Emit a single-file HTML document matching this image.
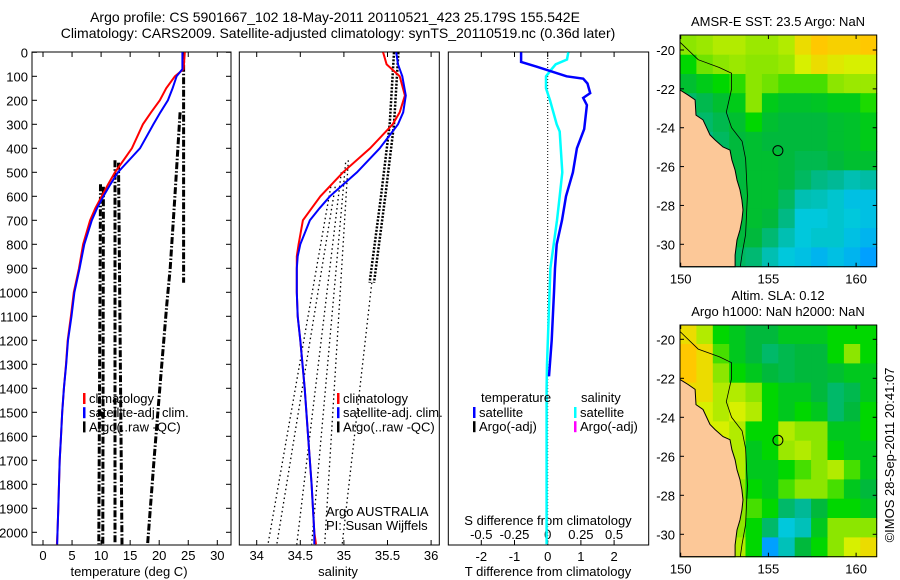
<!DOCTYPE html>
<html><head><meta charset="utf-8">
<style>
body{margin:0;background:#fff;}
svg{display:block;font-family:"Liberation Sans",sans-serif;}
text{fill:#000;}
</style></head>
<body>
<svg id="fig" width="900" height="580" viewBox="0 0 900 580" xmlns="http://www.w3.org/2000/svg">
<text x="335" y="22" font-size="14" text-anchor="middle">Argo profile: CS 5901667_102 18-May-2011 20110521_423 25.179S 155.542E</text>
<text x="338" y="38" font-size="14" text-anchor="middle">Climatology: CARS2009. Satellite-adjusted climatology: synTS_20110519.nc (0.36d later)</text>
<g id="p1"></g>
<g id="p2"></g>
<g id="p3"></g>
<g id="m1"></g>
<g id="m2"></g>
<text transform="translate(894,455) rotate(-90)" font-size="13" text-anchor="middle">©IMOS 28-Sep-2011 20:41:07</text>
</svg>
<script>
// ---- data ----
const depthTicks=[0,100,200,300,400,500,600,700,800,900,1000,1100,1200,1300,1400,1500,1600,1700,1800,1900,2000];
const tempTicks=[0,5,10,15,20,25,30];
const salTicks=[34,34.5,35,35.5,36];
const salTickLabels=["34","34.5","35","35.5","36"];
const tdTicks=[-2,-1,0,1,2];
const sdTicks=[-0.5,-0.25,0,0.25,0.5];
const sdTickLabels=["-0.5","-0.25","0","0.25","0.5"];
const climDepth=[0,70,100,150,200,250,300,400,500,550,600,650,700,800,900,1000,1100,1200,1300,1400,1500,1600,1700,1800,1900,2000,2050];
const climTemp=[24.4,24.2,22.7,21.2,20.1,18.6,17.2,15.3,12.4,11.2,10.1,9.0,8.1,6.9,6.2,5.3,4.8,4.25,3.96,3.6,3.3,3.1,2.87,2.75,2.64,2.5,2.4];
const satTemp=[24.0,24.0,23.0,22.3,21.5,20.2,19.0,16.7,12.9,11.6,10.4,9.3,8.4,7.1,6.3,5.4,4.9,4.3,4.0,3.6,3.3,3.1,2.87,2.75,2.64,2.5,2.45];
const salDepth=[0,50,100,180,250,300,400,500,600,650,700,800,850,900,1000,1100,1200,1400,1600,1800,2000,2050];
const climSal=[35.45,35.49,35.64,35.70,35.64,35.56,35.30,34.99,34.73,34.63,34.53,34.48,34.46,34.46,34.46,34.47,34.50,34.55,34.59,34.63,34.66,34.68];
const satSal=[35.60,35.62,35.67,35.71,35.68,35.62,35.41,35.15,34.84,34.72,34.61,34.50,34.47,34.46,34.46,34.47,34.50,34.55,34.59,34.63,34.66,34.66];
const argoTempProfiles=[
 {d:[0,960],t:[24.2,24.2]},
 {d:[250,600,900,1050,1400,1700,2050],t:[23.6,22.7,21.9,21.3,20.1,19.1,18.0]},
 {d:[550,2050],t:[9.9,9.6]},
 {d:[560,2050],t:[10.4,10.3]},
 {d:[450,2050],t:[12.4,12.4]},
 {d:[460,2050],t:[13.0,13.6]}
];
const argoSalBand={d:[0,300,600,960],s:[35.6,35.55,35.45,35.32]};
const argoSalDotted=[
 {d:[560,2050],s:[34.85,34.13]},
 {d:[560,2050],s:[34.9,34.23]},
 {d:[500,2050],s:[34.97,34.46]},
 {d:[460,2050],s:[35.02,34.63]},
 {d:[450,2050],s:[35.05,34.78]},
 {d:[960,2050],s:[35.32,34.98]}
];
const diffDepth=[0,40,60,100,110,130,170,190,220,320,400,500,600,700,800,900,1000,1200,1350,1400,2050];
const tempDiff=[-0.8,-0.8,-0.33,0.57,1.07,1.2,1.28,1.07,1.18,1.1,0.88,0.76,0.55,0.43,0.27,0.22,0.19,0.12,0.04,0.0,0.0];
const salDiffDepth=[0,30,50,70,100,150,200,300,330,500,600,700,800,900,1300,1400,2050];
const salDiff=[0.155,0.145,0.06,0.03,-0.013,-0.013,0.017,0.068,0.09,0.11,0.09,0.07,0.045,0.02,-0.005,-0.008,-0.008];
const sstGrid=[
[0.7,0.72,0.75,0.75,0.72,0.72,0.75,0.85,0.9,0.88,0.88,0.9],
[0.6,0.68,0.7,0.72,0.7,0.7,0.72,0.8,0.85,0.82,0.8,0.8],
[0.52,0.56,0.6,0.63,0.7,0.68,0.65,0.65,0.65,0.7,0.72,0.72],
[0.45,0.48,0.52,0.56,0.7,0.56,0.53,0.53,0.54,0.56,0.56,0.62],
[0.42,0.45,0.48,0.52,0.6,0.52,0.5,0.5,0.5,0.52,0.53,0.56],
[0.42,0.42,0.46,0.5,0.52,0.5,0.5,0.5,0.5,0.52,0.53,0.56],
[0.42,0.42,0.45,0.5,0.52,0.52,0.5,0.48,0.48,0.5,0.52,0.52],
[0.42,0.42,0.42,0.5,0.52,0.52,0.5,0.46,0.42,0.4,0.36,0.38],
[0.42,0.42,0.4,0.5,0.52,0.52,0.46,0.36,0.35,0.32,0.28,0.28],
[0.42,0.42,0.4,0.5,0.52,0.5,0.42,0.3,0.3,0.32,0.3,0.28],
[0.42,0.42,0.4,0.5,0.5,0.44,0.36,0.3,0.32,0.32,0.28,0.25],
[0.42,0.42,0.4,0.46,0.44,0.36,0.3,0.28,0.25,0.28,0.25,0.2]];
const slaGrid=[
[0.85,0.75,0.6,0.55,0.5,0.5,0.55,0.55,0.55,0.6,0.6,0.6],
[0.9,0.85,0.65,0.55,0.5,0.45,0.48,0.5,0.5,0.6,0.7,0.6],
[0.9,0.85,0.7,0.6,0.55,0.5,0.48,0.5,0.5,0.52,0.55,0.55],
[0.85,0.85,0.75,0.75,0.7,0.6,0.55,0.55,0.5,0.45,0.48,0.55],
[0.8,0.8,0.75,0.8,0.75,0.6,0.55,0.6,0.55,0.45,0.5,0.6],
[0.8,0.8,0.8,0.75,0.6,0.6,0.75,0.7,0.7,0.55,0.55,0.6],
[0.8,0.8,0.8,0.75,0.55,0.6,0.72,0.75,0.7,0.6,0.55,0.55],
[0.8,0.8,0.8,0.75,0.55,0.55,0.6,0.65,0.7,0.75,0.65,0.55],
[0.8,0.8,0.8,0.7,0.6,0.55,0.65,0.7,0.7,0.65,0.55,0.5],
[0.8,0.8,0.8,0.7,0.65,0.6,0.45,0.4,0.5,0.6,0.6,0.55],
[0.8,0.8,0.8,0.7,0.6,0.45,0.3,0.35,0.55,0.7,0.7,0.7],
[0.8,0.8,0.8,0.75,0.6,0.2,0.35,0.5,0.6,0.7,0.8,0.85]];
const coastLon=[149.96,150.42,150.82,150.87,151.27,151.67,151.96,152.41,152.81,152.92,153.1,153.21,153.38,153.49,153.55,153.49,153.38,153.21,153.1,153.1];
const coastLat=[-22.06,-22.32,-22.57,-23.35,-23.6,-24.37,-24.63,-24.99,-25.15,-25.66,-26.18,-26.69,-27.2,-27.72,-28.23,-28.75,-29.26,-29.78,-30.55,-31.17];
const isoLon=[149.96,151.0,152.2,152.9,152.9,152.6,152.9,153.5,153.7,153.8,153.7,153.5,153.4];
const isoLat=[-19.6,-20.5,-20.9,-21.2,-22.0,-23.2,-24.0,-24.7,-25.6,-27.5,-29.5,-30.5,-31.15];
const mapLonTicks=[150,155,160];
const mapLatTicks=[-20,-22,-24,-26,-28,-30];
const profLon=155.542, profLat=-25.179;

// ---- scales ----
const NS='http://www.w3.org/2000/svg';
const yD=d=>52.3+d*0.24;
const xT=t=>43+t*5.81;
const xS=s=>256.7+(s-34)*87.2;
const xTd=v=>547.7+v*33.2;
const xSd=v=>547.7+v*132.8;
const lonX=l=>680.7+(l-150)*17.54;
const latY1=l=>50+(-20-l)*19.43;
const latY2=l=>339.3+(-20-l)*19.5;
function el(parent,tag,attrs){const e=document.createElementNS(NS,tag);for(const k in attrs)e.setAttribute(k,attrs[k]);parent.appendChild(e);return e;}
function txt(parent,x,y,s,anchor,size){const e=el(parent,'text',{x:x,y:y,'font-size':size||13,'text-anchor':anchor||'start'});e.textContent=s;return e;}
function pts(xs,ys){return xs.map((x,i)=>x.toFixed(1)+','+ys[i].toFixed(1)).join(' ');}

// ---- panel 1 ----
const p1=document.getElementById('p1');
let r=el(p1,'rect',{x:32,y:52,width:199,height:493,fill:'none',stroke:'#000','stroke-width':1});

depthTicks.forEach((d,i)=>{
 el(p1,'line',{x1:32,x2:37,y1:yD(d),y2:yD(d),stroke:'#000'});
 el(p1,'line',{x1:226,x2:231,y1:yD(d),y2:yD(d),stroke:'#000'});
 const t=txt(p1,28,yD(d)+5,String(d),'end');
 
 
});
tempTicks.forEach(v=>{
 el(p1,'line',{x1:xT(v),x2:xT(v),y1:52,y2:57,stroke:'#000'});
 el(p1,'line',{x1:xT(v),x2:xT(v),y1:540,y2:545,stroke:'#000'});
 const t=txt(p1,xT(v),560,String(v),'middle');
 
 
});
let lab=txt(p1,129,576,'temperature (deg C)','middle');

argoTempProfiles.forEach(p=>{
 const l=el(p1,'polyline',{points:pts(p.t.map(xT),p.d.map(yD)),fill:'none',stroke:'#000','stroke-width':3,'stroke-dasharray':'7,2,1.5,2'});
 
 
});
let c=el(p1,'polyline',{points:pts(climTemp.map(xT),climDepth.map(yD)),fill:'none',stroke:'#f00','stroke-width':2});

c=el(p1,'polyline',{points:pts(satTemp.map(xT),climDepth.map(yD)),fill:'none',stroke:'#00f','stroke-width':2});

function legend(g,x,y0,items){
 items.forEach((it,i)=>{
  const y=y0+i*14.2;
  if(it[1]) el(g,'rect',{x:x,y:y-10,width:2.5,height:11,fill:it[1]});
  const t=txt(g,x+6,y,it[0],'start');
  
  
 });
}
legend(p1,83,403,[['climatology','#f00'],['satellite-adj. clim.','#00f'],['Argo(..raw -QC)','#000']]);

// ---- panel 2 ----
const p2=document.getElementById('p2');
r=el(p2,'rect',{x:239.3,y:52,width:200,height:493,fill:'none',stroke:'#000'});

salTicks.forEach((v,i)=>{
 el(p2,'line',{x1:xS(v),x2:xS(v),y1:52,y2:57,stroke:'#000'});
 el(p2,'line',{x1:xS(v),x2:xS(v),y1:540,y2:545,stroke:'#000'});
 const t=txt(p2,xS(v),560,salTickLabels[i],'middle');
 
 
});
lab=txt(p2,338,576,'salinity','middle');

argoSalDotted.forEach(p=>{
 const l=el(p2,'polyline',{points:pts(p.s.map(xS),p.d.map(yD)),fill:'none',stroke:'#000','stroke-width':1.3,'stroke-dasharray':'1.5,3'});
 
 
});
[-0.025,0.025].forEach(off=>{
 const l=el(p2,'polyline',{points:pts(argoSalBand.s.map(s=>xS(s+off)),argoSalBand.d.map(yD)),fill:'none',stroke:'#000','stroke-width':2.5,'stroke-dasharray':'2,1.5'});
 
 
});
c=el(p2,'polyline',{points:pts(climSal.map(xS),salDepth.map(yD)),fill:'none',stroke:'#f00','stroke-width':2});

c=el(p2,'polyline',{points:pts(satSal.map(xS),salDepth.map(yD)),fill:'none',stroke:'#00f','stroke-width':2});

legend(p2,337,403,[['climatology','#f00'],['satellite-adj. clim.','#00f'],['Argo(..raw -QC)','#000']]);
lab=txt(p2,326,516,'Argo AUSTRALIA');
lab=txt(p2,326,530,'PI: Susan Wijffels');

// ---- panel 3 ----
const p3=document.getElementById('p3');
r=el(p3,'rect',{x:448.3,y:52,width:200.4,height:493,fill:'none',stroke:'#000'});

el(p3,'line',{x1:xTd(0),x2:xTd(0),y1:52,y2:545,stroke:'#000','stroke-dasharray':'1,2'});
tdTicks.forEach(v=>{
 el(p3,'line',{x1:xTd(v),x2:xTd(v),y1:52,y2:57,stroke:'#000'});
 el(p3,'line',{x1:xTd(v),x2:xTd(v),y1:540,y2:545,stroke:'#000'});
 const t=txt(p3,xTd(v),561,String(v),'middle');
 
 
});
sdTicks.forEach((v,i)=>{
 const t=txt(p3,xSd(v),539,sdTickLabels[i],'middle');
 
 
});
lab=txt(p3,548,576,'T difference from climatology','middle');

lab=txt(p3,548,525,'S difference from climatology','middle');

c=el(p3,'polyline',{points:pts(salDiff.map(xSd),salDiffDepth.map(yD)),fill:'none',stroke:'#0ff','stroke-width':2.5});

c=el(p3,'polyline',{points:pts(tempDiff.slice(0,19).map(xTd),diffDepth.slice(0,19).map(yD)),fill:'none',stroke:'#00f','stroke-width':2.5});

lab=txt(p3,481,402,'temperature');
lab=txt(p3,581,402,'salinity');
legend(p3,473,417,[['satellite','#00f'],['Argo(-adj)','#000']]);
legend(p3,574,417,[['satellite','#0ff'],['Argo(-adj)','#f0f']]);

// ---- maps ----
const stops=[[0,[0,90,255]],[0.2,[0,160,255]],[0.3,[0,200,220]],[0.4,[0,185,150]],[0.5,[0,185,60]],[0.6,[0,215,0]],[0.7,[140,230,0]],[0.8,[215,240,0]],[0.9,[255,200,0]],[1,[255,150,0]]];
function cmap(v){
 for(let i=1;i<stops.length;i++){if(v<=stops[i][0]){const a=stops[i-1],b=stops[i];const f=(v-a[0])/(b[0]-a[0]);
  return 'rgb('+a[1].map((c,k)=>Math.round(c+(b[1][k]-c)*f)).join(',')+')';}}
 return 'rgb(255,150,0)';
}
function drawMap(id,grid,latY,top,bottom,titles){
 const g=document.getElementById(id);
 const lon0=149.96,lon1=161.17,lat0=-19.25,lat1=-31.15;
 const nr=grid.length,nc=grid[0].length;
 grid.forEach((row,i)=>row.forEach((v,j)=>{
  const la=lat0+(lat1-lat0)*i/nr, lb=lat0+(lat1-lat0)*(i+1)/nr;
  const lo=lon0+(lon1-lon0)*j/nc, lo2=lon0+(lon1-lon0)*(j+1)/nc;
  const y1=Math.max(top,latY(la)), y2=Math.min(bottom,latY(lb));
  const cell=el(g,'rect',{x:lonX(lo).toFixed(1),y:y1.toFixed(1),width:(lonX(lo2)-lonX(lo)+0.6).toFixed(1),height:(y2-y1+0.6).toFixed(1),fill:cmap(v)});
  
  
 }));
 const lx=coastLon.map(lonX), ly=coastLat.map(latY);
 ly[ly.length-1]=bottom;
 const landPts=pts(lx,ly)+' 680,'+bottom+' 680,'+ly[0].toFixed(1);
 const land=el(g,'polygon',{points:landPts,fill:'#fcc898',stroke:'#000','stroke-width':1});
 
 const iso=el(g,'polyline',{points:pts(isoLon.map(lonX),isoLat.map(l=>Math.min(bottom,Math.max(top,latY(l))))),fill:'none',stroke:'#000','stroke-width':0.8});
 
 const circ=el(g,'circle',{cx:lonX(profLon),cy:latY(profLat),r:5,fill:'none',stroke:'#000','stroke-width':1});
 
 const box=el(g,'rect',{x:680,y:top,width:196.7,height:bottom-top,fill:'none',stroke:'#000'});
 
 mapLonTicks.forEach(l=>{
  el(g,'line',{x1:lonX(l),x2:lonX(l),y1:top,y2:top+4,stroke:'#000'});
  el(g,'line',{x1:lonX(l),x2:lonX(l),y1:bottom-4,y2:bottom,stroke:'#000'});
  const t=txt(g,lonX(l),bottom+17,String(l),'middle');
  
  
 });
 mapLatTicks.forEach(l=>{
  el(g,'line',{x1:680,x2:684,y1:latY(l),y2:latY(l),stroke:'#000'});
  el(g,'line',{x1:872.7,x2:876.7,y1:latY(l),y2:latY(l),stroke:'#000'});
  const t=txt(g,675,latY(l)+5,String(l),'end');
  
  
 });
 titles.forEach(tt=>{
  const t=txt(g,778,tt[1],tt[0],'middle');
  
  
 });
}
drawMap('m1',sstGrid,latY1,35,266.7,[['AMSR-E SST: 23.5 Argo: NaN',26]]);
drawMap('m2',slaGrid,latY2,325,556.7,[['Altim. SLA: 0.12',300],['Argo h1000: NaN h2000: NaN',316]]);
</script>
</body></html>
